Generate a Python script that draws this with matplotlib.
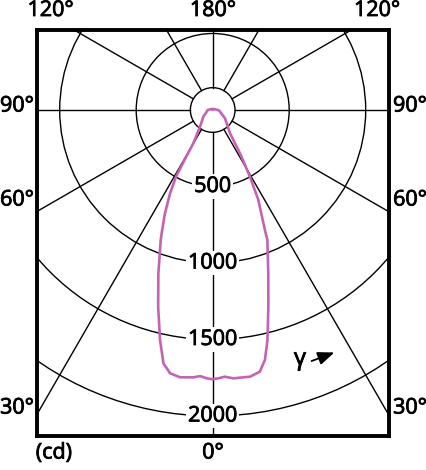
import numpy as np
import matplotlib.pyplot as plt
import matplotlib.patheffects as pe
from matplotlib.patches import Circle

plt.rcParams['font.family'] = ['Open Sans', 'DejaVu Sans']

# luminous intensity (cd) against gamma angle (deg), left and right half-planes
gamma_left = [180, 150, 120, 90, 74, 54.5, 37.2, 30.2, 29.3, 28.8, 27.1, 24.8, 22.5, 21.8,
              18.4, 15.5, 12.9, 11.0, 9.2, 7.0, 4.15, 2.7, 1.3, 0]
cd_left = [5, 7, 12, 33, 41, 75, 137, 252, 398, 498, 612, 744, 872, 915,
           1125, 1334, 1542, 1687, 1743, 1760, 1752, 1741, 1754, 1760]
gamma_right = [0, 1.2, 2.6, 4.4, 8.0, 10.2, 11.8, 13.4, 15.8, 18.8, 22.8, 23.5, 26.9,
               29.2, 32.2, 36.6, 56, 84, 90, 120, 150, 180]
cd_right = [1760, 1754, 1745, 1759, 1760, 1738, 1669, 1545, 1336, 1127, 922, 856, 659,
            499, 335, 190, 97, 43, 33, 12, 7, 5]

rings = [500, 1000, 1500, 2000]
ring_labels = ['500', '1000', '1500', '2000']
spokes = np.arange(0, 360, 30)

W, H = 426, 470
cx, cy = 212.7, 110.0   # pole position in pixels
k = 0.153               # pixels per cd
inner = 146             # inner ring (cd)
fs = 15.5
bold = [pe.withStroke(linewidth=0.6, foreground='black')]

fig = plt.figure(figsize=(W / 100, H / 100), dpi=100)
L, R, T, B = 37, 389, 29.5, 436
ax = fig.add_axes([L / W, 1 - B / H, (R - L) / W, (B - T) / H])
ax.set_xlim((L - cx) / k, (R - cx) / k)
ax.set_ylim((cy - B) / k, (cy - T) / k)
ax.set_xticks([])
ax.set_yticks([])
for s in ax.spines.values():
    s.set_linewidth(2.8)
    s.set_zorder(10)

lc = 'black'
for r in [inner] + rings:
    ax.add_patch(Circle((0, 0), r, fill=False, ec=lc, lw=1.0, zorder=1))
for a in spokes:
    t = np.radians(a)
    ax.plot([inner * np.sin(t), 4000 * np.sin(t)], [-inner * np.cos(t), -4000 * np.cos(t)],
            color=lc, lw=1.0, zorder=1)

for r, lab in zip(rings, ring_labels):
    ax.text(0, -r, lab, ha='center', va='center', fontsize=fs, zorder=3, path_effects=bold,
            bbox=dict(boxstyle='square,pad=0.08', fc='white', ec='none'))

# intensity curve
gl = np.radians(gamma_left)
gr = np.radians(gamma_right)
x = np.concatenate([-np.array(cd_left) * np.sin(gl), np.array(cd_right) * np.sin(gr)])
y = np.concatenate([-np.array(cd_left) * np.cos(gl), -np.array(cd_right) * np.cos(gr)])
ax.plot(x, y, color='#c462b4', lw=1.9, zorder=4)

# gamma arrow
def px(xp, yp):
    return (xp - cx) / k, (cy - yp) / k

ax.text(*px(300, 359), 'γ', fontsize=17, ha='center', va='center', zorder=5, path_effects=bold)
ax.annotate('', xy=px(337, 351.5), xytext=px(309, 362),
            arrowprops=dict(arrowstyle='-|>,head_length=1.0,head_width=0.4', color='black', lw=1.3),
            zorder=5)

# angle labels outside the frame
labels = [('120°', 50.5, 10.5), ('180°', 213, 10.5), ('120°', 377, 10.5),
          ('90°', 17, 106), ('90°', 410, 106), ('60°', 17, 200), ('60°', 410, 200),
          ('30°', 17, 408), ('30°', 410, 408), ('0°', 213, 453), ('(cd)', 54, 453)]
for s, xp, yp in labels:
    fig.text(xp / W, 1 - yp / H, s, ha='center', va='center', fontsize=fs, path_effects=bold)

fig.savefig('out.png', dpi=100)
